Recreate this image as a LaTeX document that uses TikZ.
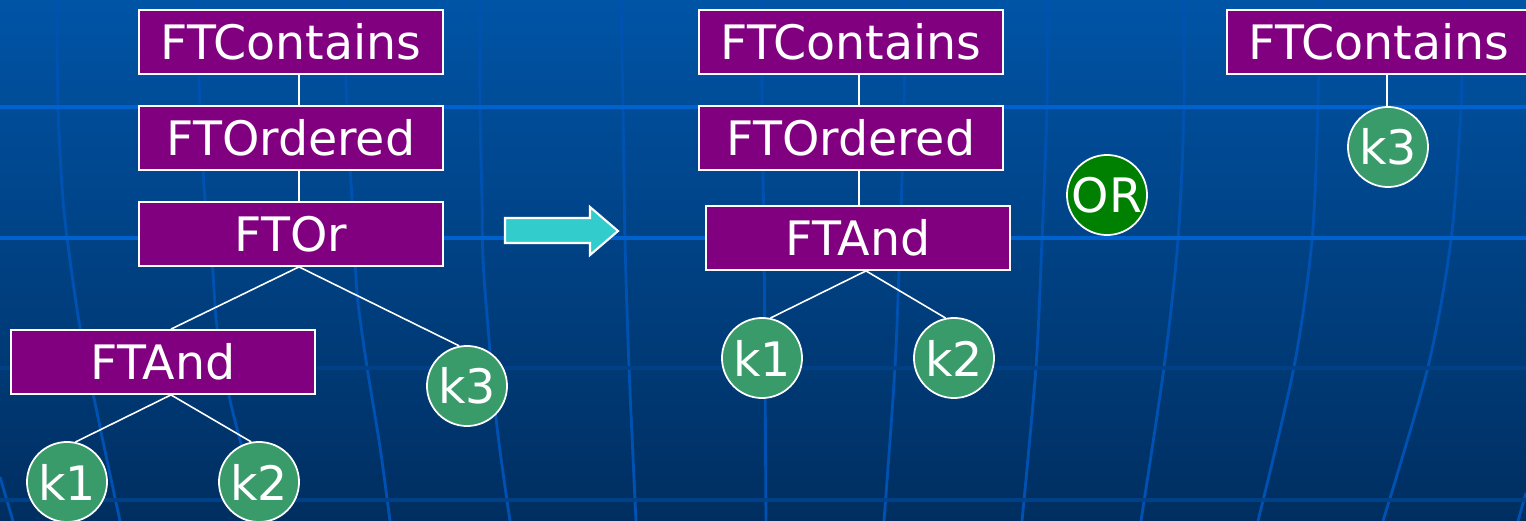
\documentclass[tikz,border=0pt]{standalone}
\usepackage{fontspec}
\setmainfont{DejaVu Sans}

\definecolor{bgtop}{RGB}{0,84,166}
\definecolor{bgbot}{RGB}{0,46,96}
\definecolor{gridblue}{RGB}{0,98,206}
\definecolor{gridvert}{RGB}{0,82,178}
\definecolor{gridfaint}{RGB}{0,64,134}
\definecolor{boxpurple}{RGB}{128,0,128}
\definecolor{keygreen}{RGB}{58,155,106}
\definecolor{orgreen}{RGB}{0,128,0}
\definecolor{arrowcyan}{RGB}{51,204,204}

\tikzset{
  ftbox/.style={draw=white, line width=0.5pt, fill=boxpurple, text=white,
    minimum width=3.04cm, minimum height=0.64cm, inner sep=0pt,
    font=\fontsize{13.5}{16}\selectfont},
  keynode/.style={circle, draw=white, line width=0.5pt, fill=keygreen, text=white,
    minimum size=0.8cm, inner sep=0pt, font=\fontsize{13.5}{16}\selectfont},
  ornode/.style={keynode, fill=orgreen},
  link/.style={white, line width=0.45pt},
  gridline/.style={gridvert, line width=0.8pt},
}

\begin{document}
\begin{tikzpicture}[x=0.01cm, y=-0.01cm]
    \useasboundingbox (0,0) rectangle (1526,521);
    \clip (0,0) rectangle (1526,521);

    % background: gradient with a bent grid
    \shade[top color=bgtop, bottom color=bgbot] (0,0) rectangle (1526,521);
    \draw[gridline] plot coordinates {(0,477) (13,521)};
    \draw[gridline] plot[smooth] coordinates {(57,0) (58,107) (63,200) (70,260) (80,327) (100,427) (120,521)};
    \draw[gridline] plot[smooth] coordinates {(197,0) (200,107) (205,200) (212,260) (217,327) (230,400) (245,460) (257,521)};
    \draw[gridline] plot[smooth] coordinates {(343,0) (347,107) (352,200) (355,260) (358,303) (367,367) (380,447) (390,521)};
    \draw[gridline] plot[smooth] coordinates {(480,0) (480,107) (482,200) (483,260) (488,327) (497,427) (510,521)};
    \draw[gridline] plot[smooth] coordinates {(621,0) (623,107) (625,240) (629,367) (636,521)};
    \draw[gridline] plot[smooth] coordinates {(762,0) (762,107) (764,240) (765,367) (766,521)};
    \draw[gridline] plot[smooth] coordinates {(905,0) (904,107) (900,240) (895,367) (884,521)};
    \draw[gridline] plot[smooth] coordinates {(1047,0) (1047,107) (1042,240) (1036,367) (1022,521)};
    \draw[gridline] plot[smooth] coordinates {(1183,0) (1184,107) (1178,240) (1164,367) (1141,521)};
    \draw[gridline] plot[smooth] coordinates {(1319,0) (1318,107) (1312,240) (1294,367) (1258,521)};
    \draw[gridline] plot[smooth] coordinates {(1463,0) (1461,107) (1451,240) (1428,367) (1383,521)};
    \draw[gridline] plot coordinates {(1526,493) (1518,521)};
    \foreach \y in {107,238} \draw[gridblue, line width=1pt] (0,\y) -- (1526,\y);
    \foreach \y in {368,500} \draw[gridfaint, line width=1pt] (0,\y) -- (1526,\y);

    % query before the rewrite
    \node[ftbox] (lcont) at (291,42) {FTContains};
    \node[ftbox] (lord) at (291,138) {FTOrdered};
    \node[ftbox] (lor) at (291,234) {FTOr};
    \node[ftbox] (land) at (163,362) {FTAnd};
    \node[keynode] (lk1) at (67,482) {k1};
    \node[keynode] (lk2) at (259,482) {k2};
    \node[keynode] (lk3) at (467,386) {k3};

    \draw[link] ([xshift=0.08cm]lcont.south) -- ([xshift=0.08cm]lord.north);
    \draw[link] ([xshift=0.08cm]lord.south) -- ([xshift=0.08cm]lor.north);
    \draw[link] ([xshift=0.08cm]lor.south) -- ([xshift=0.08cm]land.north);
    \draw[link] ([xshift=0.08cm]lor.south) -- (lk3.101);
    \draw[link] ([xshift=0.08cm]land.south) -- (lk1.78);
    \draw[link] ([xshift=0.08cm]land.south) -- (lk2.101);

    % rewrite arrow
    \draw[fill=arrowcyan, draw=white, line width=0.6pt]
        (505,218) -- (590,218) -- (590,207) -- (618,231) -- (590,255) -- (590,243) -- (505,243) -- cycle;

    % first branch: FTAnd
    \node[ftbox] (mcont) at (851,42) {FTContains};
    \node[ftbox] (mord) at (851,138) {FTOrdered};
    \node[ftbox] (mand) at (858,238) {FTAnd};
    \node[keynode] (mk1) at (762,358) {k1};
    \node[keynode] (mk2) at (954,358) {k2};

    \draw[link] ([xshift=0.08cm]mcont.south) -- ([xshift=0.08cm]mord.north);
    \draw[link] ([xshift=0.08cm]mord.south) -- ([xshift=0.08cm]mord.south |- mand.north);
    \draw[link] ([xshift=0.08cm]mand.south) -- (mk1.78);
    \draw[link] ([xshift=0.08cm]mand.south) -- (mk2.102);

    \node[ornode] (or) at (1107,195) {OR};

    % second branch: k3 alone
    \node[ftbox] (rcont) at (1379,42) {FTContains};
    \node[keynode] (rk3) at (1388,147) {k3};

    \draw[link] ([xshift=0.08cm]rcont.south) -- ([xshift=0.08cm]rcont.south |- rk3.north);

\end{tikzpicture}
\end{document}
